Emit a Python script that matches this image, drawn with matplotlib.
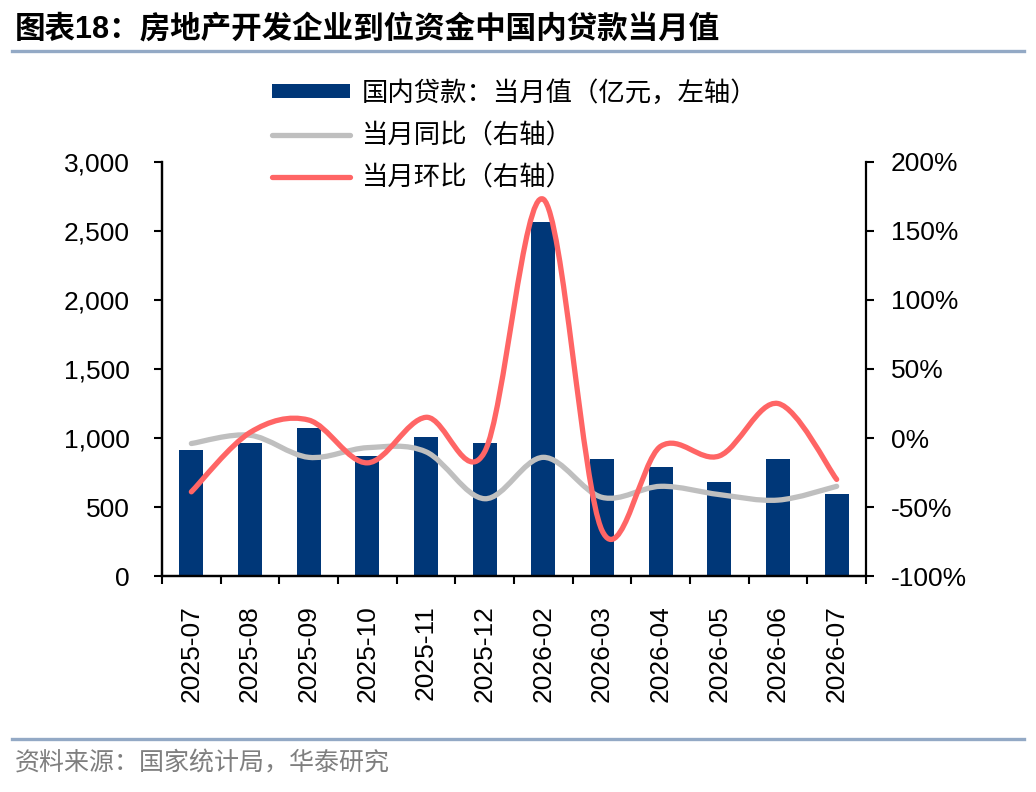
import matplotlib
matplotlib.use("Agg")
import matplotlib.pyplot as plt
from matplotlib.path import Path
from matplotlib.patches import PathPatch, Patch
from matplotlib.lines import Line2D
from matplotlib.ticker import FuncFormatter

plt.rcParams['font.family'] = ['Liberation Sans', 'Noto Sans CJK SC']

months = ['2025-07', '2025-08', '2025-09', '2025-10', '2025-11', '2025-12',
          '2026-02', '2026-03', '2026-04', '2026-05', '2026-06', '2026-07']
loans = [913, 962, 1070, 870, 1005, 962, 2567, 848, 788, 680, 848, 592]
yoy = [-4, 2, -14, -7, -10, -44, -14, -43, -35, -41, -45, -35]
mom = [-39, 4, 13, -18, 15, -10, 173, -67, -6, -13, 25, -30]

BAR_C = '#003778'
GRAY_C = '#BFBFBF'
RED_C = '#FF6565'
RULE_C = '#93A9C5'


def smooth_path(xs, ys):
    # excel style smoothing: cubic bezier through every point
    n = len(xs)
    verts = [(xs[0], ys[0])]
    codes = [Path.MOVETO]
    for i in range(n - 1):
        x0, y0 = xs[max(i - 1, 0)], ys[max(i - 1, 0)]
        x1, y1 = xs[i], ys[i]
        x2, y2 = xs[i + 1], ys[i + 1]
        x3, y3 = xs[min(i + 2, n - 1)], ys[min(i + 2, n - 1)]
        c1 = (x1 + (x2 - x0) / 6, y1 + (y2 - y0) / 6)
        c2 = (x2 - (x3 - x1) / 6, y2 - (y3 - y1) / 6)
        verts += [c1, c2, (x2, y2)]
        codes += [Path.CURVE4] * 3
    return Path(verts, codes)


fig = plt.figure(figsize=(10.36, 7.92), dpi=100)
ax = fig.add_axes([0.1564, 0.2727, 0.6795, 0.5228])
ax2 = ax.twinx()

x = list(range(len(months)))
ax.bar(x, loans, width=0.41, color=BAR_C, zorder=2)

ax2.add_patch(PathPatch(smooth_path(x, yoy), fill=False, edgecolor=GRAY_C,
                        lw=3.8, capstyle='round', joinstyle='round'))
ax2.add_patch(PathPatch(smooth_path(x, mom), fill=False, edgecolor=RED_C,
                        lw=3.8, capstyle='round', joinstyle='round'))

ax.set_xlim(-0.5, len(months) - 0.5)
ax.set_ylim(0, 3000)
ax2.set_ylim(-100, 200)
ax.set_yticks(range(0, 3001, 500))
ax2.set_yticks(range(-100, 201, 50))
ax.yaxis.set_major_formatter(FuncFormatter(lambda v, p: f'{int(v):,}'))
ax2.yaxis.set_major_formatter(FuncFormatter(lambda v, p: f'{int(v)}%'))

ax.set_xticks([i - 0.5 for i in range(len(months) + 1)])
ax.set_xticklabels([])
ax.set_xticks(x, minor=True)
ax.set_xticklabels(months, minor=True, rotation=90, fontsize=19)
ax.tick_params(axis='x', which='minor', length=0, pad=21)
ax.tick_params(axis='x', which='major', length=6, width=1.5, direction='out')
ax.tick_params(axis='y', length=6, width=1.5, labelsize=19, pad=17)
ax2.tick_params(axis='y', length=6, width=1.5, labelsize=19, pad=12)

for a in (ax, ax2):
    a.spines['top'].set_visible(False)
    for s in ('left', 'right', 'bottom'):
        a.spines[s].set_linewidth(1.6)
ax.spines['right'].set_visible(False)

handles = [Patch(facecolor=BAR_C, edgecolor='none'),
           Line2D([], [], color=GRAY_C, lw=3.8, solid_capstyle='round'),
           Line2D([], [], color=RED_C, lw=3.8, solid_capstyle='round')]
labels = ['国内贷款：当月值（亿元，左轴）', '当月同比（右轴）', '当月环比（右轴）']
fig.legend(handles, labels, loc='upper left', bbox_to_anchor=(0.263, 0.899),
           frameon=False, fontsize=19, handlelength=2.95, handleheight=0.45,
           handletextpad=0.45, labelspacing=0.66, borderpad=0, borderaxespad=0)

fig.text(0.014, 0.962, '图表18：房地产开发企业到位资金中国内贷款当月值',
         fontsize=22, fontweight='bold', va='center', ha='left')
fig.add_artist(Line2D([0.012, 0.988], [0.9356, 0.9356], color=RULE_C, lw=2.4,
                      transform=fig.transFigure))
fig.add_artist(Line2D([0.012, 0.988], [0.067, 0.067], color=RULE_C, lw=2.4,
                      transform=fig.transFigure))
fig.text(0.014, 0.036, '资料来源：国家统计局，华泰研究', fontsize=18,
         color='#7F7F7F', va='center', ha='left')

fig.savefig('out.png', dpi=100)
